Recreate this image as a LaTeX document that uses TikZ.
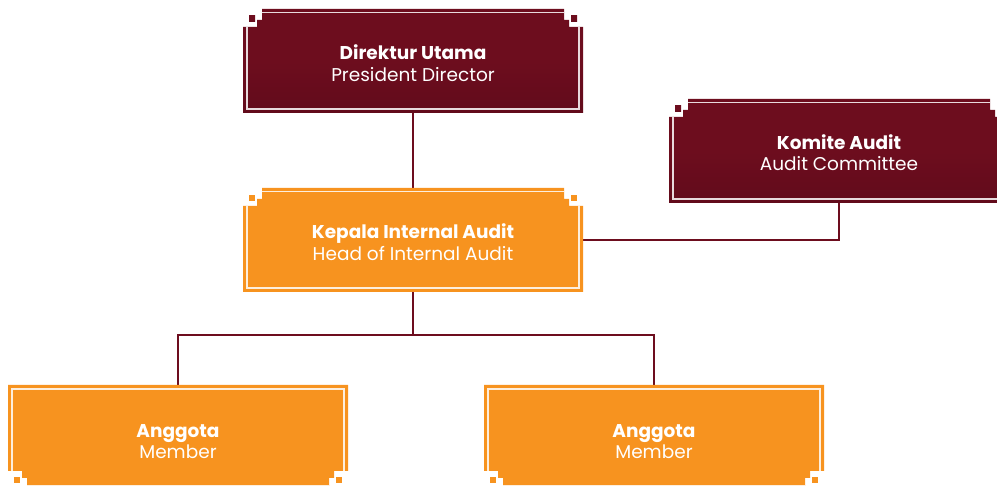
\documentclass[tikz,border=0pt]{standalone}
\usepackage{fontspec}
\setmainfont{Poppins}
\usetikzlibrary{calc}
\definecolor{maroon}{HTML}{6D0D1E}
\definecolor{maroondk}{HTML}{620B1B}
\definecolor{orng}{HTML}{F7931F}
\tikzset{
  boxnode/.style={minimum width=340pt,minimum height=104pt,inner sep=0pt,outer sep=0pt,draw=none},
  conn/.style={draw=maroon,line width=2.8pt},
  innerline/.style={draw=white,draw opacity=0.85,line width=1.4pt},
  ttl/.style={anchor=base,text=white,font=\fontsize{18.5}{22}\selectfont\bfseries,inner sep=0pt},
  sub/.style={anchor=base,text=white,font=\fontsize{18.5}{22}\selectfont,inner sep=0pt},
}
\newcommand\topnotch[2]{%
  \begin{scope}[shift={(#1.north west)}]
    #2 (0,18) -- (14,18) -- (14,11) -- (19,11) -- (19,0) -- (321,0) -- (321,11) -- (326,11) -- (326,18) -- (340,18) -- (340,104) -- (0,104) -- cycle;
    #2 (6,7) rectangle (12,13);
    #2 (328,7) rectangle (334,13);
    \draw[innerline] (4,18) -- (4,100) -- (336,100) -- (336,18);
    \draw[innerline] (19,3.5) -- (321,3.5);
  \end{scope}}
\newcommand\botnotch[2]{%
  \begin{scope}[shift={(#1.north west)}]
    #2 (0,86) -- (14,86) -- (14,93) -- (19,93) -- (19,104) -- (321,104) -- (321,93) -- (326,93) -- (326,86) -- (340,86) -- (340,0) -- (0,0) -- cycle;
    #2 (6,92) rectangle (12,98);
    #2 (328,92) rectangle (334,98);
    \draw[innerline] (4,86) -- (4,4) -- (336,4) -- (336,86);
    \draw[innerline] (19,100.5) -- (321,100.5);
  \end{scope}}
\begin{document}
\begin{tikzpicture}[x=1pt,y=-1pt]
\useasboundingbox (0,0) rectangle (997,486);
\clip (0,0) rectangle (997,486);
\node[boxnode] (dir) at (413,61) {};
\node[boxnode] (kom) at (839,151) {};
\node[boxnode] (kia) at (413,240) {};
\node[boxnode] (ag1) at (178,437) {};
\node[boxnode] (ag2) at (654,437) {};
% connectors
\coordinate (bus) at ($(kia.south)+(0,43)$);
\draw[conn] (dir.south) -- (kia.north);
\draw[conn] (kia.east) -| (kom.south);
\draw[conn] (kia.south) -- (bus);
\draw[conn] (ag1.north) |- (bus) -| (ag2.north);
% boxes
\topnotch{dir}{\shade[top color=maroon,bottom color=maroondk,middle color=maroon]}
\topnotch{kom}{\shade[top color=maroon,bottom color=maroondk,middle color=maroon]}
\topnotch{kia}{\fill[orng]}
\botnotch{ag1}{\fill[orng]}
\botnotch{ag2}{\fill[orng]}
% texts
\node[ttl] (dirA) at ($(dir.center)+(0,-1)$) {Direktur Utama};
\node[sub] (dirB) at ($(dir.center)+(0,21)$) {President Director};
\node[ttl] (komA) at ($(kom.center)+(0,-1)$) {Komite Audit};
\node[sub] (komB) at ($(kom.center)+(0,20)$) {Audit Committee};
\node[ttl] (kiaA) at ($(kia.center)+(0,-1)$) {Kepala Internal Audit};
\node[sub] (kiaB) at ($(kia.center)+(0,21)$) {Head of Internal Audit};
\node[ttl] (ag1A) at ($(ag1.center)+(0,1)$) {Anggota};
\node[sub] (ag1B) at ($(ag1.center)+(0,22)$) {Member};
\node[ttl] (ag2A) at ($(ag2.center)+(0,1)$) {Anggota};
\node[sub] (ag2B) at ($(ag2.center)+(0,22)$) {Member};
\end{tikzpicture}
\end{document}
